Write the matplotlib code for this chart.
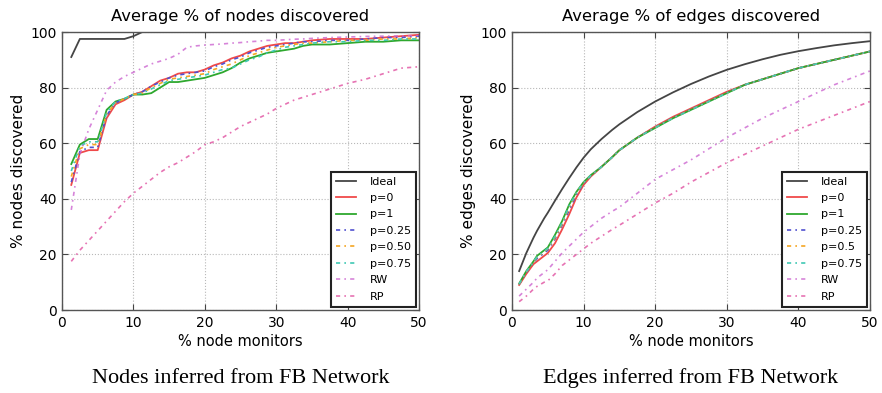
import numpy as np
import matplotlib
matplotlib.use('Agg')
import matplotlib.pyplot as plt

# ---- data: nodes discovered (left panel) ----
xn = [1.3, 2.5, 3.75, 5, 6.25, 7.5, 8.75, 10, 11.25, 12.5, 13.75, 15, 16.25, 17.5,
      18.75, 20, 21.25, 22.5, 23.75, 25, 26.25, 27.5, 28.75, 30, 31.25, 32.5, 33.75,
      35, 37.5, 40, 42.5, 45, 47.5, 50]
n_ideal = [91, 97.5, 97.5, 97.5, 97.5, 97.5, 97.5, 98.5, 100, 100, 100, 100, 100, 100,
           100, 100, 100, 100, 100, 100, 100, 100, 100, 100, 100, 100, 100,
           100, 100, 100, 100, 100, 100, 100]
n_p0 = [45, 56.5, 57.5, 57.5, 69, 74, 75.5, 77.5, 78.5, 80.5, 82.5, 83.5, 85, 85.5,
        85.5, 86.5, 88, 89, 90.5, 91.5, 93, 94, 95, 95.5, 96, 96, 96.5,
        97, 97.5, 97.5, 97.5, 98, 98.5, 99]
n_p1 = [52.5, 59.5, 61.5, 61.5, 72, 75, 76, 77.5, 77.5, 78, 80, 82, 82, 82.5,
        83, 83.5, 84.5, 85.5, 87, 89, 90.5, 91.5, 92.5, 93, 93.5, 94, 95,
        95.5, 95.5, 96, 96.5, 96.5, 97, 97]
n_p25 = [46, 57, 58.5, 58.5, 70, 74.5, 76, 77.5, 78.5, 80.5, 82, 83.5, 84.5, 85,
         85.5, 86, 87.5, 88.5, 90, 91, 92.5, 93.5, 94.5, 95, 95.5, 96, 96.5,
         96.5, 97, 97, 97.5, 98, 98, 98.5]
n_p50 = [48, 58, 59.5, 59.5, 70.5, 74.5, 76, 77.5, 78, 80, 81.5, 83, 83.5, 84,
         84.5, 85, 86.5, 87.5, 88.5, 90, 91.5, 92.5, 93.5, 94.5, 95, 95.5, 96,
         96, 96.5, 97, 97, 97.5, 97.5, 98]
n_p75 = [50, 59, 60.5, 60.5, 71, 75, 76, 77.5, 78, 79.5, 81, 82.5, 83, 83.5,
         84, 84.5, 85.5, 86.5, 87, 88.5, 90, 91, 92.5, 93.5, 94.5, 95, 95.5,
         96, 96.5, 96.5, 97, 97, 97.5, 97.5]
n_rw = [36, 56, 65, 72, 79, 82, 84, 85.5, 87, 88.5, 89.5, 90.5, 92, 94.5,
        95, 95.3, 95.5, 95.7, 96, 96.2, 96.5, 96.7, 97, 97, 97.2, 97.4, 97.5,
        97.7, 98, 98.2, 98.4, 98.5, 98.6, 98.7]
n_rp = [17.5, 21.5, 25, 28.5, 32, 35.5, 39, 42, 44.5, 47, 49.5, 51.5, 53, 55,
        57, 59.5, 60.5, 62, 64, 66, 67.5, 69, 70.5, 72.5, 74, 75.5, 76.5,
        77.5, 79.5, 81.5, 83, 85, 87, 87.5]

# ---- data: edges discovered (right panel) ----
xe = [1, 2, 3, 3.5, 4.5, 5, 6, 7, 8, 9, 10, 11, 12.5, 14, 15, 17.5, 20, 22.5, 25,
      27.5, 30, 32.5, 35, 37.5, 40, 42.5, 45, 47.5, 50]
e_ideal = [14, 20.5, 26, 28.5, 33, 35, 39.3, 43.5, 47.5, 51.3, 54.8, 57.8, 61.5, 64.8,
           66.8, 71.2, 75, 78.3, 81.3, 84, 86.4, 88.4, 90.2, 91.8, 93.1, 94.2, 95.2, 96, 96.7]
e_p0 = [9, 13, 16.5, 17.5, 19.5, 20.5, 24, 29, 34.5, 40.5, 45, 48, 51.5, 55, 57.5,
        62, 66, 69.5, 72.5, 75.5, 78.5, 81, 83, 85, 87, 88.5, 90, 91.5, 93]
e_p1 = [9.5, 14, 17.5, 19.5, 21.5, 22.5, 27, 32, 38, 42.5, 46, 48.5, 51.5, 55, 57.5,
        62, 65.5, 69, 72, 75, 78, 81, 83, 85, 87, 88.5, 90, 91.5, 93]
e_p25 = [9.2, 13.5, 17, 18.5, 20.5, 21.5, 25.5, 30.5, 36, 41.5, 45.5, 48.2, 51.5, 55,
         57.5, 62, 65.8, 69.2, 72.2, 75.2, 78.2, 81, 83, 85, 87, 88.5, 90, 91.5, 93]
e_p50 = [9.3, 13.7, 17.2, 19, 21, 22, 26, 31, 37, 42, 45.8, 48.3, 51.5, 55,
         57.5, 62, 65.7, 69.1, 72.1, 75.1, 78.1, 81, 83, 85, 87, 88.5, 90, 91.5, 93]
e_p75 = [9.4, 13.8, 17.3, 19.2, 21.2, 22.2, 26.5, 31.5, 37.5, 42.2, 45.9, 48.4, 51.5, 55,
         57.5, 62, 65.6, 69, 72, 75, 78, 81, 83, 85, 87, 88.5, 90, 91.5, 93]
e_rw = [5, 7.5, 10, 11.5, 13.5, 14.5, 17.5, 20.5, 23, 25.5, 28, 30, 33, 35.5, 37,
        42, 47, 50.5, 54, 58, 62, 65.5, 69, 72, 75, 78, 81, 83.5, 86]
e_rp = [3, 5, 7.5, 8.5, 10, 10.5, 13, 16, 18, 20, 22, 24, 26.5, 29, 30.5,
        34.5, 38.5, 42, 46, 49.5, 53, 56, 59, 62, 65, 67.5, 70, 72.5, 75]

labels_left = ['Ideal', 'p=0', 'p=1', 'p=0.25', 'p=0.50', 'p=0.75', 'RW', 'RP']
labels_right = ['Ideal', 'p=0', 'p=1', 'p=0.25', 'p=0.5', 'p=0.75', 'RW', 'RP']

colors = ['#454545', '#f04a4a', '#2ea82e', '#5050d0', '#f5a623', '#40c8b4', '#cc66d0', '#e050a0']
dashdot = (0, (2.5, 2.5, 1, 2.5))

plt.rcParams['font.family'] = 'DejaVu Sans'
plt.rcParams['xtick.direction'] = 'in'
plt.rcParams['ytick.direction'] = 'in'
plt.rcParams['xtick.top'] = True
plt.rcParams['ytick.right'] = True

fig = plt.figure(figsize=(8.82, 3.93), dpi=100)
ax1 = fig.add_axes([62/882, 1-310/393, 357/882, 278/393])
ax2 = fig.add_axes([512/882, 1-310/393, 358/882, 278/393])


def draw(ax, x, series, labels, title, ylabel, caption):
    for i, (y, lab) in enumerate(zip(series, labels)):
        if i < 3:
            ax.plot(x, y, color=colors[i], lw=1.3, label=lab)
        else:
            a = 0.8 if i >= 6 else 1.0
            ax.plot(x, y, color=colors[i], lw=1.2, ls=dashdot, alpha=a, label=lab)
    ax.set_xlim(0, 50)
    ax.set_ylim(0, 100)
    ax.set_xticks([0, 10, 20, 30, 40, 50])
    ax.set_yticks([0, 20, 40, 60, 80, 100])
    ax.grid(True, color='#b8b8b8', ls=':', lw=0.8)
    ax.tick_params(labelsize=10, length=4, color='#444444', pad=4)
    for s in ax.spines.values():
        s.set_color('#555555')
        s.set_linewidth(1.0)
    ax.set_title(title, fontsize=11.8, pad=8)
    ax.set_xlabel('% node monitors', fontsize=10.5, labelpad=3)
    ax.set_ylabel(ylabel, fontsize=11, labelpad=3)
    leg = ax.legend(loc='lower right', fontsize=8, handlelength=1.8, labelspacing=0.58,
                    borderaxespad=0.3, fancybox=False, framealpha=1, borderpad=0.45,
                    handletextpad=1.2)
    leg.get_frame().set_edgecolor('#222222')
    leg.get_frame().set_linewidth(1.5)
    ax.text(0.5, -0.245, caption, transform=ax.transAxes, ha='center', va='center',
            fontsize=16, family='Liberation Serif')


draw(ax1, xn, [n_ideal, n_p0, n_p1, n_p25, n_p50, n_p75, n_rw, n_rp], labels_left,
     'Average % of nodes discovered', '% nodes discovered', 'Nodes inferred from FB Network')
draw(ax2, xe, [e_ideal, e_p0, e_p1, e_p25, e_p50, e_p75, e_rw, e_rp], labels_right,
     'Average % of edges discovered', '% edges discovered', 'Edges inferred from FB Network')

fig.savefig('out.png', dpi=100)
